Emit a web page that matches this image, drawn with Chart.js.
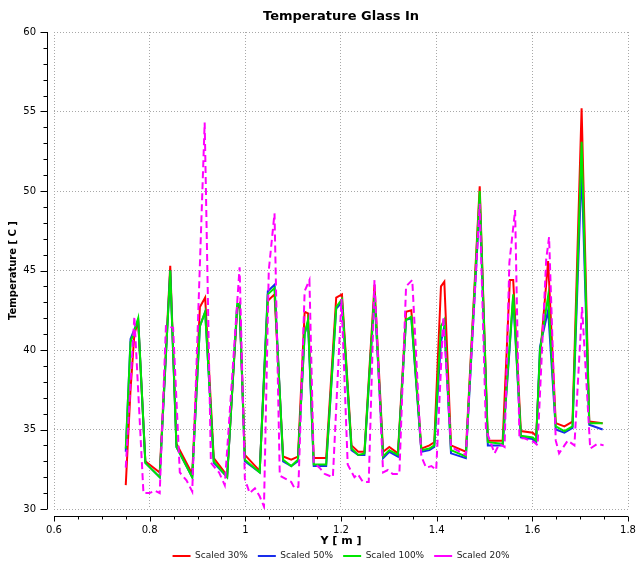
<!DOCTYPE html>
<html>
<head>
<meta charset="utf-8">
<title>Temperature Glass In</title>
<script src="https://cdn.jsdelivr.net/npm/chart.js@4.4.1/dist/chart.umd.min.js"></script>
<style>
  html, body { margin: 0; padding: 0; background: #fff; }
  #wrap { width: 641px; height: 564px; }
</style>
</head>
<body>
<div id="wrap"><canvas id="chart" width="641" height="564"></canvas></div>
<script>
// sample positions shared by the three solid series
const xSolid = [0.750, 0.760, 0.768, 0.776, 0.791, 0.821, 0.843, 0.856, 0.889, 0.905,
  0.916, 0.934, 0.962, 0.983, 0.988, 0.999, 1.030, 1.047, 1.061, 1.079,
  1.096, 1.110, 1.124, 1.131, 1.143, 1.169, 1.190, 1.202, 1.222, 1.236,
  1.249, 1.270, 1.288, 1.301, 1.319, 1.336, 1.347, 1.368, 1.385, 1.395,
  1.409, 1.416, 1.430, 1.461, 1.490, 1.507, 1.538, 1.553, 1.560, 1.576,
  1.601, 1.608, 1.616, 1.633, 1.649, 1.667, 1.684, 1.703, 1.719, 1.747];

const scaled30 = [31.5, 37.5, 41.0, 41.8, 33.0, 32.3, 45.3, 34.1, 32.2, 42.7,
  43.3, 33.2, 32.1, 42.6, 42.9, 33.4, 32.4, 43.1, 43.5, 33.3,
  33.1, 33.3, 42.4, 42.3, 33.2, 33.2, 43.3, 43.5, 34.0, 33.6,
  33.6, 44.1, 33.6, 33.9, 33.5, 42.4, 42.5, 33.8, 34.0, 34.2,
  44.0, 44.3, 34.0, 33.6, 50.3, 34.3, 34.3, 44.4, 44.4, 34.9,
  34.8, 34.6, 39.5, 45.6, 35.4, 35.2, 35.5, 55.2, 35.5, 35.4];

const scaled50 = [33.6, 40.7, 41.3, 41.9, 32.9, 32.0, 45.0, 33.9, 32.0, 41.5,
  42.4, 32.9, 32.0, 42.8, 42.9, 33.0, 32.3, 43.7, 44.1, 33.0,
  32.7, 33.0, 41.0, 41.8, 32.7, 32.7, 42.6, 43.0, 33.7, 33.4,
  33.4, 43.4, 33.2, 33.6, 33.3, 41.9, 42.0, 33.6, 33.7, 33.9,
  40.5, 41.5, 33.5, 33.2, 49.3, 34.0, 34.0, 40.3, 43.3, 34.5,
  34.4, 34.2, 40.2, 42.5, 35.0, 34.8, 35.1, 51.5, 35.3, 35.0];

const scaled100 = [33.8, 40.5, 41.2, 42.0, 32.9, 32.0, 45.0, 33.9, 32.0, 41.5,
  42.4, 33.0, 32.0, 42.9, 42.9, 33.1, 32.3, 43.5, 43.9, 33.1,
  32.7, 33.1, 41.0, 41.9, 32.8, 32.8, 42.7, 43.2, 33.8, 33.4,
  33.5, 43.6, 33.3, 33.7, 33.4, 41.9, 42.1, 33.7, 33.8, 34.0,
  41.5, 41.9, 33.7, 33.3, 50.0, 34.2, 34.1, 40.5, 43.5, 34.6,
  34.5, 34.3, 40.0, 43.4, 35.2, 34.9, 35.2, 53.1, 35.4, 35.4];

// the 20% case is sampled on its own positions
const xScaled20 = [0.750, 0.768, 0.787, 0.800, 0.811, 0.821, 0.834, 0.849, 0.863, 0.877,
  0.889, 0.915, 0.928, 0.945, 0.957, 0.988, 0.999, 1.009, 1.020, 1.030,
  1.039, 1.049, 1.061, 1.072, 1.096, 1.103, 1.111, 1.124, 1.134, 1.143,
  1.155, 1.166, 1.183, 1.201, 1.214, 1.228, 1.235, 1.246, 1.258, 1.270,
  1.288, 1.298, 1.308, 1.322, 1.336, 1.349, 1.368, 1.378, 1.389, 1.399,
  1.414, 1.430, 1.461, 1.490, 1.503, 1.521, 1.531, 1.542, 1.552, 1.564,
  1.573, 1.583, 1.604, 1.611, 1.629, 1.635, 1.649, 1.656, 1.674, 1.688,
  1.704, 1.721, 1.736, 1.749];

const scaled20 = [32.6, 42.1, 31.0, 31.0, 31.15, 31.0, 41.5, 41.4, 32.3, 31.8,
  31.1, 54.3, 32.9, 32.3, 31.5, 45.2, 31.9, 31.0, 31.3, 30.8,
  30.15, 45.0, 48.6, 32.1, 31.7, 31.3, 31.4, 43.7, 44.4, 32.9,
  32.6, 32.2, 32.0, 43.2, 32.8, 32.0, 32.2, 31.7, 31.7, 44.4,
  32.3, 32.45, 32.2, 32.2, 44.0, 44.4, 33.3, 32.6, 32.7, 32.45,
  42.1, 33.9, 33.4, 49.2, 35.0, 33.5, 34.1, 33.9, 45.5, 48.8,
  34.45, 34.45, 34.2, 34.0, 45.7, 47.1, 34.3, 33.5, 34.3, 34.0,
  42.7, 33.8, 34.1, 34.0];

const seriesLabels = ['Scaled 30%', 'Scaled 50%', 'Scaled 100%', 'Scaled 20%'];
const xTicks = [0.6, 0.8, 1, 1.2, 1.4, 1.6, 1.8];
const yTicks = [30, 35, 40, 45, 50, 55, 60];

function pts(xs, ys){
  return xs.map((x, i) => ({ x, y: ys[i] }));
}

// axis lines sit a few px off the plot area, with minor ticks
const axisLines = {
  id: 'axisLines',
  afterDraw(chart){
    const { ctx, chartArea: a, scales: { x, y } } = chart;
    const ax = Math.round(a.left) - 7 + 0.5;
    const ay = Math.round(a.bottom) + 7 + 0.5;
    const yMin = yTicks[0], yMax = yTicks[yTicks.length - 1];
    const xMin = xTicks[0], xMax = xTicks[xTicks.length - 1];
    ctx.save();
    ctx.strokeStyle = '#000';
    ctx.lineWidth = 1;
    ctx.beginPath();
    ctx.moveTo(ax, y.getPixelForValue(yMax));
    ctx.lineTo(ax, y.getPixelForValue(yMin));
    for(let v = yMin; v <= yMax; v++){
      const py = Math.round(y.getPixelForValue(v)) + 0.5;
      const len = yTicks.includes(v) ? 7 : 4;
      ctx.moveTo(ax, py);
      ctx.lineTo(ax - len, py);
    }
    ctx.moveTo(x.getPixelForValue(xMin), ay);
    ctx.lineTo(x.getPixelForValue(xMax), ay);
    const nMinor = Math.round((xMax - xMin) / 0.05);
    for(let i = 0; i <= nMinor; i++){
      const px = Math.round(x.getPixelForValue(xMin + i * 0.05)) + 0.5;
      const len = i % 4 === 0 ? 5 : 3;
      ctx.moveTo(px, ay);
      ctx.lineTo(px, ay + len);
    }
    ctx.stroke();
    ctx.restore();
  }
};

const tickFont = { family: 'DejaVu Sans', size: 10 };
const gridOpts = { color: '#a8a8a8', lineWidth: 1, drawTicks: false };

new Chart(document.getElementById('chart'), {
  type: 'line',
  data: {
    datasets: [
      { label: seriesLabels[0], data: pts(xSolid, scaled30), borderColor: 'rgb(255,0,0)', borderWidth: 2, order: 4 },
      { label: seriesLabels[1], data: pts(xSolid, scaled50), borderColor: 'rgb(25,45,235)', borderWidth: 2, order: 3 },
      { label: seriesLabels[2], data: pts(xSolid, scaled100), borderColor: 'rgb(0,230,0)', borderWidth: 2, order: 2 },
      { label: seriesLabels[3], data: pts(xScaled20, scaled20), borderColor: 'rgb(255,0,255)', borderWidth: 2, borderDash: [7, 4], order: 1 }
    ]
  },
  options: {
    responsive: false,
    animation: false,
    devicePixelRatio: 1,
    events: [],
    elements: {
      line: { tension: 0, fill: false },
      point: { radius: 0, hoverRadius: 0 }
    },
    layout: { padding: { left: 4, right: 0, top: 0, bottom: -6.5 } },
    plugins: {
      title: {
        display: true,
        text: 'Temperature Glass In',
        fullSize: false,
        color: '#000',
        font: { family: 'DejaVu Sans', size: 13, weight: 'bold' },
        padding: { top: 9, bottom: 7.4 }
      },
      legend: {
        position: 'bottom',
        fullSize: false,
        labels: {
          usePointStyle: true,
          pointStyle: 'line',
          pointStyleWidth: 18,
          padding: 10,
          color: '#222',
          font: { family: 'DejaVu Sans', size: 9 },
          sort: (a, b) => a.datasetIndex - b.datasetIndex
        }
      },
      tooltip: { enabled: false }
    },
    scales: {
      x: {
        type: 'linear',
        min: xTicks[0],
        max: xTicks[xTicks.length - 1],
        afterBuildTicks: s => { s.ticks = xTicks.map(v => ({ value: v })); },
        afterFit: s => { s.height = 32.5; s.paddingLeft = 0; s.paddingRight = 13; },
        ticks: { font: tickFont, color: '#000', padding: 15, maxRotation: 0, autoSkip: false, callback: v => String(v) },
        grid: gridOpts,
        border: { display: false, dash: [1, 2] },
        title: {
          display: true,
          text: 'Y [ m ]',
          color: '#000',
          font: { family: 'DejaVu Sans', size: 11, weight: 'bold' },
          padding: { top: 0, bottom: -6.7 }
        }
      },
      y: {
        min: yTicks[0],
        max: yTicks[yTicks.length - 1],
        afterBuildTicks: s => { s.ticks = yTicks.map(v => ({ value: v })); },
        afterFit: s => { s.width = 50; },
        ticks: { font: tickFont, color: '#000', padding: 18, callback: v => String(v) },
        grid: gridOpts,
        border: { display: false, dash: [1, 2] },
        title: {
          display: true,
          text: 'Temperature [ C ]',
          color: '#000',
          font: { family: 'DejaVu Sans', size: 10, weight: 'bold' },
          padding: { top: 3.4, bottom: 0 }
        }
      }
    }
  },
  plugins: [axisLines]
});
</script>
</body>
</html>
